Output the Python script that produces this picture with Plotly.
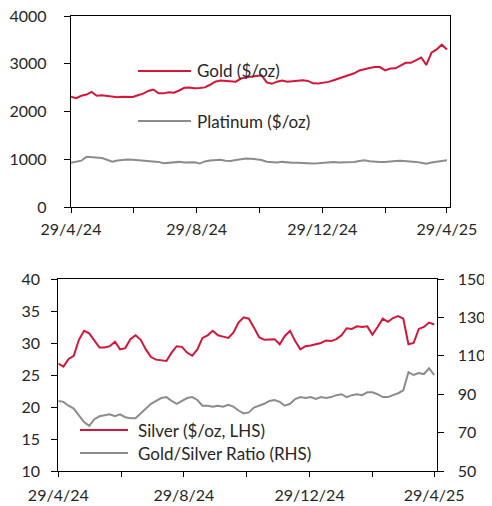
import pandas as pd
import plotly.graph_objects as go

# ---------------- data (5-day sampling) ----------------
dates = pd.date_range("2024-04-29", periods=74, freq="5D")

gold = [2308, 2280, 2330, 2355, 2410, 2330, 2340, 2330, 2310, 2300,
        2310, 2310, 2305, 2340, 2375, 2430, 2460, 2380, 2380, 2405,
        2395, 2440, 2495, 2500, 2485, 2490, 2505, 2560, 2625, 2650,
        2645, 2640, 2625, 2690, 2715, 2730, 2745, 2760, 2610, 2580,
        2625, 2650, 2625, 2640, 2640, 2655, 2640, 2590, 2585, 2600,
        2620, 2655, 2690, 2725, 2760, 2800, 2860, 2890, 2910, 2930,
        2930, 2860, 2900, 2905, 2970, 3020, 3020, 3075, 3130, 2975,
        3230, 3300, 3400, 3300]

platinum = [925, 940, 970, 1050, 1040, 1020, 1025, 990, 950, 975,
            990, 995, 990, 980, 965, 950, 945, 945, 915, 925,
            935, 945, 930, 930, 935, 910, 955, 975, 985, 990,
            970, 965, 985, 1000, 1015, 1010, 995, 985, 950, 945,
            930, 945, 930, 925, 925, 915, 910, 910, 915, 925,
            935, 940, 930, 930, 935, 945, 965, 980, 960, 945,
            945, 945, 960, 965, 970, 965, 960, 945, 925, 905,
            930, 945, 960, 980]

silver = [26.8, 26.3, 27.5, 28.0, 30.5, 31.9, 31.5, 30.3, 29.3, 29.3,
          29.5, 30.2, 29.0, 29.2, 30.6, 31.2, 30.5, 29.0, 27.8, 27.4,
          27.3, 27.2, 28.5, 29.5, 29.4, 28.5, 28.0, 29.0, 30.8, 31.2,
          31.9, 31.2, 31.0, 30.8, 31.6, 33.2, 34.0, 33.8, 32.4, 30.9,
          30.5, 30.6, 30.6, 29.8, 31.1, 31.9, 30.3, 29.0, 29.5, 29.6,
          29.8, 30.0, 30.4, 30.3, 30.6, 31.2, 32.3, 32.2, 32.6, 32.5,
          32.6, 31.3, 32.5, 33.8, 33.3, 33.9, 34.2, 33.8, 29.8, 30.0,
          32.2, 32.5, 33.2, 32.9]

ratio = [86.5, 86.0, 84.0, 82.5, 79.0, 75.5, 73.5, 77.0, 78.5, 79.0,
         79.5, 78.5, 79.5, 78.0, 77.5, 77.5, 80.0, 82.5, 85.0, 86.5,
         88.0, 88.5, 86.5, 85.0, 86.5, 88.0, 88.5, 87.0, 84.0, 84.0,
         83.5, 84.0, 83.5, 84.5, 83.5, 81.5, 80.0, 80.5, 83.0, 84.0,
         85.0, 86.5, 87.0, 86.0, 84.0, 85.0, 87.5, 88.5, 88.0, 88.5,
         87.5, 88.5, 88.0, 88.5, 89.5, 90.0, 88.5, 89.5, 90.0, 89.5,
         91.0, 91.0, 90.0, 88.5, 88.5, 89.5, 90.5, 92.0, 101.5, 100.0,
         101.0, 100.5, 103.5, 100.0]

tick_dates = ["2024-04-29", "2024-06-29", "2024-08-29", "2024-10-29",
              "2024-12-29", "2025-02-28", "2025-04-29"]
tick_labels = ["29/4/24", "", "29/8/24", "", "29/12/24", "", "29/4/25"]

labels = {"gold": "Gold ($/oz)", "platinum": "Platinum ($/oz)",
          "silver": "Silver ($/oz, LHS)", "ratio": "Gold/Silver Ratio (RHS)"}

# ---------------- styling ----------------
RED = "#d4163a"
GRAY = "#8c8c8c"
FONT = "Lato"
TXT = "#262626"
W, H = 492, 506
OFF = 8  # page body margin offset


def px(x):
    return (x - OFF) / W


def py(y):
    return 1 - (y - OFF) / H


fig = go.Figure()
fig.add_trace(go.Scatter(x=dates, y=gold, mode="lines", line=dict(color=RED, width=2),
                         xaxis="x", yaxis="y", showlegend=False, name=labels["gold"]))
fig.add_trace(go.Scatter(x=dates, y=platinum, mode="lines", line=dict(color=GRAY, width=2),
                         xaxis="x", yaxis="y", showlegend=False, name=labels["platinum"]))
fig.add_trace(go.Scatter(x=dates, y=ratio, mode="lines", line=dict(color=GRAY, width=2),
                         xaxis="x2", yaxis="y3", showlegend=False, name=labels["ratio"]))
fig.add_trace(go.Scatter(x=dates, y=silver, mode="lines", line=dict(color=RED, width=2),
                         xaxis="x2", yaxis="y2", showlegend=False, name=labels["silver"]))

tickfont = dict(family=FONT, size=16, color=TXT)
xcommon = dict(type="date", range=["2024-04-29", "2025-05-02"], tickmode="array",
               tickvals=tick_dates, ticktext=tick_labels, ticks="outside", ticklen=5,
               tickwidth=1.3, tickcolor="black", showline=True, linecolor="black",
               linewidth=1.3, mirror=True, showgrid=False, zeroline=False,
               tickfont=tickfont, fixedrange=True, automargin=False,
               ticklabeloverflow="allow")
ycommon = dict(ticks="outside", ticklen=6, tickwidth=1.3, tickcolor="black",
               showline=True, linecolor="black", linewidth=1.3, showgrid=False,
               zeroline=False, tickfont=tickfont, fixedrange=True, automargin=False,
               ticklabeloverflow="allow")

fig.update_layout(
    width=W, height=H,
    margin=dict(l=0, r=0, t=0, b=0, pad=0, autoexpand=False),
    paper_bgcolor="white", plot_bgcolor="white",
    font=dict(family=FONT, color=TXT),
    xaxis=dict(**xcommon, domain=[px(71), px(450)], anchor="y", ticklabelstandoff=3),
    yaxis=dict(**ycommon, domain=[py(207), py(16)], range=[0, 4000], dtick=1000,
               anchor="x", mirror=True, ticklabelstandoff=14),
    xaxis2=dict(**xcommon, domain=[px(58.3), px(437.3)], anchor="y2", ticklabelstandoff=5),
    yaxis2=dict(**ycommon, domain=[py(471), py(279)], range=[10, 40], dtick=5,
                anchor="x2", ticklabelstandoff=8),
    yaxis3=dict(**ycommon, domain=[py(471), py(279)], range=[50, 150], tick0=50, dtick=20,
                anchor="x2", overlaying="y2", side="right", ticklabelstandoff=10),
)

# legends drawn as line samples + text
legend_items = [
    (138, 191, 71, RED, labels["gold"], 195),
    (138, 191, 121, GRAY, labels["platinum"], 195),
    (80, 128, 430, RED, labels["silver"], 136),
    (80, 128, 453, GRAY, labels["ratio"], 136),
]
for x0, x1, yy, col, text, tx in legend_items:
    fig.add_shape(type="line", xref="paper", yref="paper", x0=px(x0), x1=px(x1),
                  y0=py(yy), y1=py(yy), line=dict(color=col, width=2))
    fig.add_annotation(xref="paper", yref="paper", x=px(tx), y=py(yy), text=text,
                       showarrow=False, xanchor="left", yanchor="middle",
                       font=dict(family=FONT, size=17, color=TXT))

fig.write_html("out.html")
